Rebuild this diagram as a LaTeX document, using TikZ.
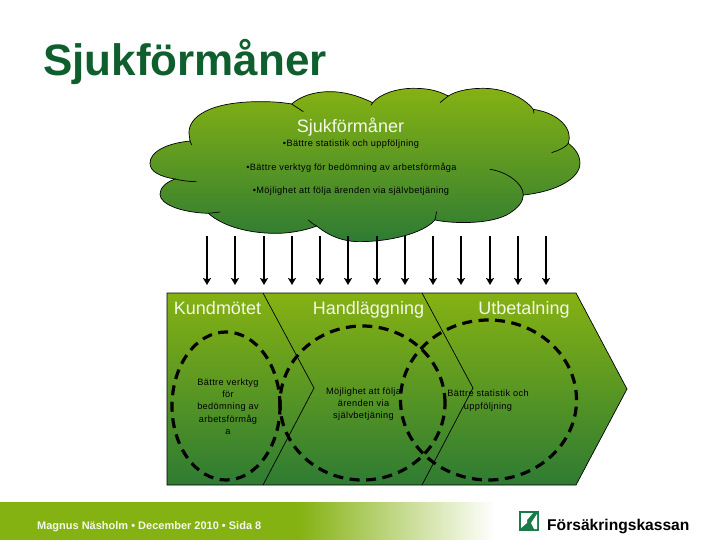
\documentclass[tikz,border=0pt]{standalone}
\usepackage{fontspec}
\setmainfont{Liberation Sans}
\usetikzlibrary{shapes.geometric,arrows.meta}
\definecolor{gtop}{HTML}{85B213}
\definecolor{gbot}{HTML}{2E7B33}
\definecolor{titlegreen}{HTML}{0F5F2E}
\definecolor{logogreen}{HTML}{1A7A48}
\definecolor{softwhite}{HTML}{F4F8E8}
\newfontfamily\spaced[LetterSpace=4]{Liberation Sans}
\tikzset{
  grad/.style={top color=gtop,bottom color=gbot,draw=black,line width=0.7pt},
  inner/.style={draw=black,line width=0.7pt},
  drop/.style={draw=black,line width=1.8pt,-{Stealth[length=7pt,width=8pt,inset=1.5pt]}},
  zone/.style={draw=black,line width=3.2pt,dash pattern=on 10pt off 6.5pt,ellipse,minimum width=#1},
  head/.style={text=softwhite,font=\fontsize{18}{20}\selectfont,inner sep=0pt,anchor=base},
  small/.style={text=black,font=\spaced\fontsize{9.2}{12.3}\selectfont,align=center,inner sep=0pt},
}
\begin{document}
\begin{tikzpicture}[x=1pt,y=-1pt]
\useasboundingbox (0,0) rectangle (720,540);
\fill[white] (0,0) rectangle (720,540);
% title
\node[anchor=base west,inner sep=0pt,text=titlegreen,font=\bfseries\fontsize{44}{50}\selectfont] (title) at (43,76) {Sjukförmåner};
% cloud
\begin{scope}[shift={(140,80)},x=0.3333pt,y=-0.3333pt]
\shade[grad] (150,183) .. controls (80,190) and (30,215) .. (30,250)
 .. controls (30,275) and (60,290) .. (105,297)
 .. controls (75,308) and (60,325) .. (60,343)
 .. controls (60,375) and (130,398) .. (205,400)
 .. controls (250,440) and (330,462) .. (420,460)
 .. controls (460,458) and (500,450) .. (530,438)
 .. controls (570,470) and (610,485) .. (660,485)
 .. controls (750,485) and (850,460) .. (885,420)
 .. controls (930,430) and (1040,435) .. (1100,405)
 .. controls (1135,385) and (1150,365) .. (1150,345)
 .. controls (1250,335) and (1320,295) .. (1320,250)
 .. controls (1320,225) and (1305,205) .. (1285,190)
 .. controls (1300,150) and (1260,100) .. (1180,88)
 .. controls (1150,50) and (1090,25) .. (1030,25)
 .. controls (980,25) and (945,35) .. (925,48)
 .. controls (890,30) and (860,25) .. (820,25)
 .. controls (770,25) and (720,42) .. (698,68)
 .. controls (650,45) and (610,35) .. (570,35)
 .. controls (520,35) and (480,50) .. (455,72)
 .. controls (420,66) and (390,65) .. (360,65)
 .. controls (210,65) and (145,110) .. (147,160)
 .. controls (148,170) and (150,178) .. (150,183) -- cycle;
\draw[inner] (150,183) -- (155,195);
\draw[inner] (105,297) .. controls (130,303) and (150,305) .. (170,305);
\draw[inner] (205,400) -- (240,396);
\draw[inner] (505,420) .. controls (512,428) and (520,432) .. (530,438);
\draw[inner] (890,395) -- (885,420);
\draw[inner] (1050,268) .. controls (1100,275) and (1150,310) .. (1150,345);
\draw[inner] (1235,218) .. controls (1260,210) and (1280,200) .. (1285,190);
\draw[inner] (1180,88) -- (1182,100);
\draw[inner] (925,48) -- (900,68);
\draw[inner] (698,68) -- (693,76);
\draw[inner] (455,72) -- (490,95);
\end{scope}
\node[head] (cloudhead) at (350.5,133) {Sjukförmåner};
\node[small] (c1) at (351,144) {•Bättre statistik och uppföljning};
\node[small] (c2) at (351.5,167.5) {•Bättre verktyg för bedömning av arbetsförmåga};
\node[small] (c3) at (351,191.5) {•Möjlighet att följa ärenden via självbetjäning};
% arrows
\foreach \n/\x in {a/207,b/235,c/264,d/292,e/320,f/348,g/377,h/405,i/433,j/461,k/490,l/518,m/546}{
  \coordinate (s\n) at (\x,236);
  \coordinate (t\n) at (\x,285);
  \draw[drop] (s\n) -- (t\n);
}
% chevron
\shade[grad] (167,293) -- (576,293) -- (627,389) -- (576,485) -- (167,485) -- cycle;
\draw[inner] (263,293) -- (314,388) -- (263,485);
\draw[inner] (422,293) -- (473,388) -- (422,485);
\node[head] (h1) at (217.5,314) {Kundmötet};
\node[head] (h2) at (368.5,314) {Handläggning};
\node[head] (h3) at (524,314) {Utbetalning};
\node[zone=108pt,minimum height=148pt] (z1) at (226,406) {};
\node[zone=165pt,minimum height=154pt] (z2) at (362.5,403) {};
\node[zone=176pt,minimum height=160pt] (z3) at (488.5,400) {};
\node[small] (t1) at (228,406.5) {Bättre verktyg\\för\\bedömning av\\arbetsförmåg\\a};
\node[small] (t2) at (363.5,404) {Möjlighet att följa\\ärenden via\\självbetjäning};
\node[small] (t3) at (488,400.5) {Bättre statistik och\\uppföljning};
% footer
\fill[gtop] (0,502) rectangle (300,540);
\shade[left color=gtop,right color=white] (299.5,502) rectangle (495,540);
\node[anchor=base west,inner sep=0pt,text=softwhite,font=\bfseries\fontsize{11}{12}\selectfont] (foot) at (37,529) {Magnus Näsholm • December 2010 • Sida 8};
% logo
\fill[logogreen] (519,511) rectangle (539,531);
\fill[white] (521,513) -- (533,513) -- (527,520) -- (527,523) -- (521,528) -- cycle;
\fill[white] (531,523) -- (537,514) -- (537,529) -- (534,529) -- cycle;
\node[anchor=base west,inner sep=0pt,text=black,font=\bfseries\fontsize{15.6}{16}\selectfont] (brand) at (547,530) {Försäkringskassan};
\end{tikzpicture}
\end{document}
